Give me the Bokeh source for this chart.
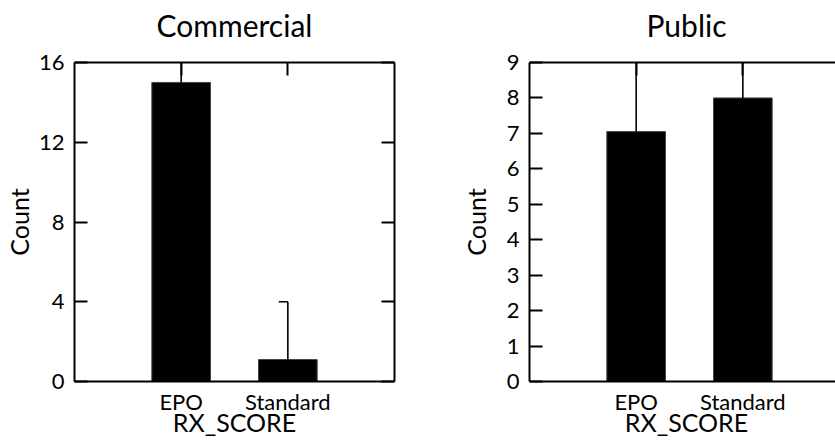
from bokeh.plotting import figure
from bokeh.models import Range1d, LinearAxis, FixedTicker
from bokeh.layouts import row
from bokeh.embed import file_html
from bokeh.resources import INLINE

categories = ["EPO", "Standard"]
cat_pos = [1, 2]

commercial_counts = [15, 1.1]
commercial_err_top = [17.5, 4]
commercial_cap = [False, True]
commercial_yticks = [0, 4, 8, 12, 16]

public_counts = [7.05, 8]
public_err_top = [10, 10]
public_cap = [False, False]
public_yticks = [0, 1, 2, 3, 4, 5, 6, 7, 8, 9]

x_title = "RX_SCORE"
y_title = "Count"

FONT = "Lato"
BAR_W = 0.55
CAP_W = 0.085


def tick_only_axis(ticks, tick_len, line):
    ax = LinearAxis(ticker=FixedTicker(ticks=ticks))
    ax.major_label_overrides = {t: "" for t in ticks}
    ax.axis_line_width = 2
    if not line:
        ax.axis_line_color = None
    ax.major_tick_in = tick_len
    ax.major_tick_out = 0
    ax.major_tick_line_width = 2
    ax.minor_tick_line_color = None
    ax.major_label_standoff = 0
    return ax


def style_label(ax, size, standoff):
    ax.axis_label_text_font = FONT
    ax.axis_label_text_font_size = size
    ax.axis_label_text_font_style = "normal"
    ax.axis_label_text_color = "black"
    ax.axis_label_standoff = standoff


def make(title, counts, err_top, caps, yticks, frame_w, x_end, right_line,
         right_tick, mb_left, mb_right, ylab_standoff):
    p = figure(frame_width=frame_w, frame_height=319,
               x_range=Range1d(0, x_end), y_range=Range1d(yticks[0], yticks[-1]),
               output_backend="svg", toolbar_location=None,
               x_axis_location=None, y_axis_location=None,
               min_border_left=mb_left, min_border_right=mb_right,
               min_border_top=62, min_border_bottom=58)
    p.outline_line_color = None
    p.xgrid.visible = False
    p.ygrid.visible = False
    p.background_fill_color = "white"
    p.border_fill_color = "white"

    # bars
    p.vbar(x=cat_pos, top=counts, bottom=0, width=BAR_W,
           fill_color="black", line_color="#444444", line_width=1)
    # error bars (upper only)
    p.segment(x0=cat_pos, y0=counts, x1=cat_pos, y1=err_top,
              line_color="black", line_width=1.6)
    cx0 = [x - CAP_W for x, c in zip(cat_pos, caps) if c]
    cx1 = [x for x, c in zip(cat_pos, caps) if c]
    cy = [e for e, c in zip(err_top, caps) if c]
    if cx0:
        p.segment(x0=cx0, y0=cy, x1=cx1, y1=cy, line_color="black", line_width=1.6)

    # left axis
    yl = LinearAxis(ticker=FixedTicker(ticks=yticks), axis_label=y_title)
    yl.axis_line_width = 2
    yl.major_tick_in = 13
    yl.major_tick_out = 0
    yl.major_tick_line_width = 2
    yl.minor_tick_line_color = None
    yl.major_label_standoff = 10
    yl.major_label_text_font = FONT
    yl.major_label_text_font_size = "22px"
    yl.major_label_text_color = "black"
    style_label(yl, "25px", ylab_standoff)
    p.add_layout(yl, "left")

    p.add_layout(tick_only_axis(yticks, right_tick, right_line), "right")

    # bottom axis
    xb = LinearAxis(ticker=FixedTicker(ticks=cat_pos), axis_label=x_title)
    xb.major_label_overrides = {pos: c for pos, c in zip(cat_pos, categories)}
    xb.axis_line_width = 2
    xb.major_tick_in = 0
    xb.major_tick_out = 0
    xb.minor_tick_line_color = None
    xb.major_label_standoff = 6
    xb.major_label_text_font = FONT
    xb.major_label_text_font_size = "22px"
    xb.major_label_text_color = "black"
    style_label(xb, "25px", -11)
    p.add_layout(xb, "below")

    # top axis: category ticks inward, panel title as its label
    xt = tick_only_axis(cat_pos, 13, True)
    xt.axis_label = title
    style_label(xt, "30px", 20)
    p.add_layout(xt, "above")
    return p


p1 = make("Commercial", commercial_counts, commercial_err_top, commercial_cap,
          commercial_yticks, 320, 3.0, True, 13, 73, 63, 2)
p2 = make("Public", public_counts, public_err_top, public_cap,
          public_yticks, 314, 314 / (320 / 3.0), False, 7, 65, 0, 13)

layout = row(p1, p2)
open("out.html", "w").write(file_html(layout, INLINE))
